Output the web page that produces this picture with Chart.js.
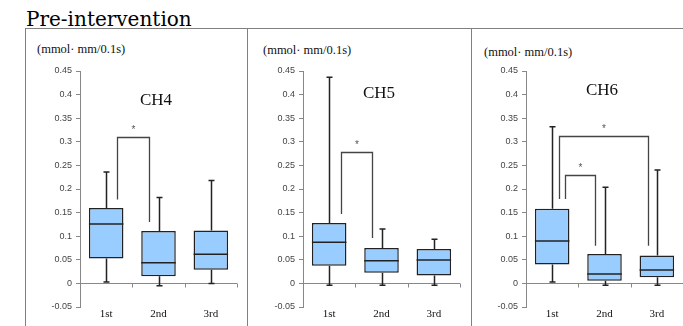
<!DOCTYPE html>
<html>
<head>
<meta charset="utf-8">
<script src="https://cdn.jsdelivr.net/npm/chart.js@4.4.1/dist/chart.umd.min.js"></script>
<style>
  html, body { margin: 0; padding: 0; background: #fff; overflow: hidden; }
  body { width: 683px; height: 326px; position: relative; }
  .title { position: absolute; left: 26px; top: 9px; font: 20px "DejaVu Serif", serif; line-height: 20px; color: #000; white-space: nowrap; }
  .hline { position: absolute; left: 25px; top: 28px; width: 658px; height: 1px; background: #808080; }
  .vline { position: absolute; top: 28px; width: 1px; height: 298px; background: #808080; }
  .unit { position: absolute; font: 12.5px "Liberation Serif", serif; line-height: 14px; color: #111; white-space: nowrap; }
  canvas { position: absolute; top: 29px; }
</style>
</head>
<body>
<div class="title">Pre-intervention</div>
<div class="hline"></div>
<div class="vline" style="left:25px"></div>
<div class="vline" style="left:247px"></div>
<div class="vline" style="left:471px"></div>
<div class="unit" style="left:37px;top:42px">(mmol· mm/0.1s)</div>
<div class="unit" style="left:263px;top:43px">(mmol· mm/0.1s)</div>
<div class="unit" style="left:484px;top:45px">(mmol· mm/0.1s)</div>
<canvas id="ch4" width="218" height="297" style="left:27px"></canvas>
<canvas id="ch5" width="218" height="297" style="left:250px"></canvas>
<canvas id="ch6" width="210" height="297" style="left:473px"></canvas>
<script>
// categories and tick range
const categories = ['1st', '2nd', '3rd'];
const yMin = -0.05, yMax = 0.45, yStep = 0.05;

// CH4 box values (whisker low, Q1, median, Q3, whisker high)
const ch4Low = [0.003, -0.005, 0.0];
const ch4Q1 = [0.0525, 0.015, 0.029];
const ch4Median = [0.126, 0.044, 0.062];
const ch4Q3 = [0.160, 0.111, 0.112];
const ch4High = [0.236, 0.182, 0.218];
// significance brackets: [from, to, top, left end, right end]
const ch4Sig = [[0, 1, 0.311, 0.178, 0.130]];

// CH5
const ch5Low = [-0.004, -0.004, -0.004];
const ch5Q1 = [0.0375, 0.0225, 0.017];
const ch5Median = [0.087, 0.048, 0.0496];
const ch5Q3 = [0.128, 0.075, 0.073];
const ch5High = [0.437, 0.1155, 0.0936];
const ch5Sig = [[0, 1, 0.279, 0.147, 0.096]];

// CH6
const ch6Low = [0.003, -0.004, -0.004];
const ch6Q1 = [0.040, 0.0057, 0.0128];
const ch6Median = [0.090, 0.0198, 0.0283];
const ch6Q3 = [0.158, 0.0624, 0.059];
const ch6High = [0.332, 0.2036, 0.240];
const ch6Sig = [[0, 2, 0.313, 0.179, 0.080], [0, 1, 0.230, 0.179, 0.080]];

// whiskers, medians, brackets and panel label
const boxExtras = {
  id: 'boxExtras',
  afterDatasetsDraw(chart, args, opts) {
    const ctx = chart.ctx;
    const xs = chart.scales.x, ys = chart.scales.y, area = chart.chartArea;
    const cw = (area.right - area.left) / categories.length;
    const meta = chart.getDatasetMeta(0);
    ctx.save();

    // small ticks along the zero line
    const y0 = Math.round(ys.getPixelForValue(0)) + 0.5;
    ctx.strokeStyle = '#888';
    ctx.lineWidth = 1;
    for (let i = 1; i <= categories.length; i++) {
      const bx = Math.round(area.left + i * cw) + 0.5;
      ctx.beginPath();
      ctx.moveTo(bx, y0);
      ctx.lineTo(bx, y0 + 4);
      ctx.stroke();
    }

    // whiskers + caps
    ctx.strokeStyle = '#222';
    ctx.lineWidth = 1.5;
    opts.low.forEach((lo, i) => {
      const cx = Math.round(xs.getPixelForValue(i)) + 0.5;
      const yq1 = ys.getPixelForValue(opts.q1[i]);
      const yq3 = ys.getPixelForValue(opts.q3[i]);
      const ylo = ys.getPixelForValue(lo);
      const yhi = ys.getPixelForValue(opts.high[i]);
      ctx.beginPath();
      ctx.moveTo(cx, yq3); ctx.lineTo(cx, yhi);
      ctx.moveTo(cx - 3, yhi); ctx.lineTo(cx + 3, yhi);
      ctx.moveTo(cx, yq1); ctx.lineTo(cx, ylo);
      ctx.moveTo(cx - 3, ylo); ctx.lineTo(cx + 3, ylo);
      ctx.stroke();

      // median
      const bar = meta.data[i];
      const half = bar.width / 2;
      const ym = ys.getPixelForValue(opts.median[i]);
      ctx.beginPath();
      ctx.moveTo(bar.x - half, ym);
      ctx.lineTo(bar.x + half, ym);
      ctx.stroke();
    });

    // significance brackets
    ctx.strokeStyle = '#444';
    ctx.lineWidth = 1.3;
    ctx.fillStyle = '#555';
    ctx.font = '10px "Liberation Sans", sans-serif';
    ctx.textAlign = 'center';
    ctx.textBaseline = 'alphabetic';
    opts.sig.forEach((s, k) => {
      const inset = opts.insets[k];
      const xl = Math.round(xs.getPixelForValue(s[0]) + inset[0]) + 0.5;
      const xr = Math.round(xs.getPixelForValue(s[1]) + inset[1]) + 0.5;
      const yt = Math.round(ys.getPixelForValue(s[2])) + 0.5;
      ctx.beginPath();
      ctx.moveTo(xl, ys.getPixelForValue(s[3]));
      ctx.lineTo(xl, yt);
      ctx.lineTo(xr, yt);
      ctx.lineTo(xr, ys.getPixelForValue(s[4]));
      ctx.stroke();
      ctx.fillText('*', (xl + xr) / 2, yt - 4.5);
    });

    // panel label
    ctx.fillStyle = '#111';
    ctx.font = '17px "Liberation Serif", serif';
    ctx.textBaseline = 'middle';
    ctx.fillText(opts.label, (area.left + area.right) / 2 - 2.5, area.top + opts.labelDy);
    ctx.restore();
  }
};

function makePanel(id, label, low, q1, median, q3, high, sig, insets, labelDy, padRight) {
  const boxes = q1.map((v, i) => [v, q3[i]]);
  return new Chart(document.getElementById(id), {
    type: 'bar',
    data: {
      labels: categories,
      datasets: [{
        data: boxes,
        backgroundColor: '#99ccff',
        borderColor: '#222',
        borderWidth: 1.5,
        borderSkipped: false,
        barPercentage: 0.66,
        categoryPercentage: 1
      }]
    },
    options: {
      responsive: false,
      animation: false,
      devicePixelRatio: 1,
      layout: { padding: { left: 0, top: 42, right: padRight, bottom: 0 } },
      plugins: {
        legend: { display: false },
        tooltip: { enabled: false },
        title: { display: false },
        boxExtras: { label, low, q1, median, q3, high, sig, insets, labelDy }
      },
      scales: {
        x: {
          grid: { display: false, drawTicks: false },
          border: { display: false },
          ticks: {
            padding: 1,
            color: '#111',
            font: { family: '"Liberation Serif", serif', size: 11 }
          },
          afterFit: (scale) => { scale.height = 19; }
        },
        y: {
          min: yMin,
          max: yMax,
          grid: {
            color: (c) => (c.tick && Math.abs(c.tick.value) < 1e-9) ? '#888' : 'rgba(0,0,0,0)',
            tickColor: '#888',
            tickLength: 4,
            lineWidth: 1
          },
          border: { display: true, color: '#888', width: 1 },
          ticks: {
            stepSize: yStep,
            padding: 4,
            color: '#444',
            font: { family: '"Liberation Sans", Arial, sans-serif', size: 9 },
            callback: (v) => String(+Number(v).toFixed(2))
          },
          afterFit: (scale) => { scale.width = 53; }
        }
      }
    },
    plugins: [boxExtras]
  });
}

makePanel('ch4', 'CH4', ch4Low, ch4Q1, ch4Median, ch4Q3, ch4High, ch4Sig, [[10.5, -9.8]], 30, 8);
makePanel('ch5', 'CH5', ch5Low, ch5Q1, ch5Median, ch5Q3, ch5High, ch5Sig, [[11.8, -9.2]], 23, 8);
makePanel('ch6', 'CH6', ch6Low, ch6Q1, ch6Median, ch6Q3, ch6High, ch6Sig, [[7, -8.5], [13, -10]], 20, 0);
</script>
</body>
</html>
